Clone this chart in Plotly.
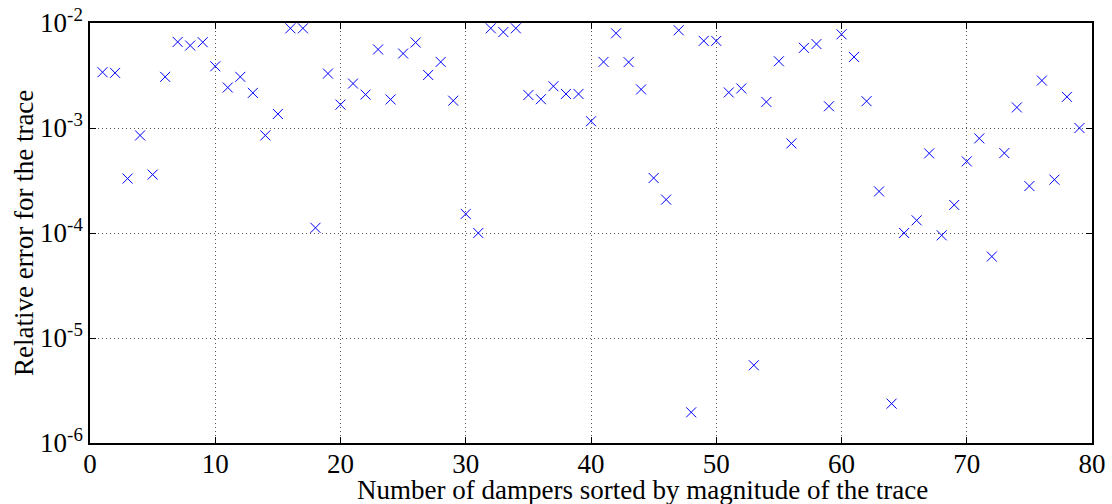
import plotly.graph_objects as go

damper_index = list(range(1, 80))
rel_error = [
    3.4e-3, 3.35e-3, 3.3e-4, 8.5e-4, 3.6e-4, 3.07e-3, 6.6e-3, 6.1e-3, 6.56e-3, 3.87e-3,
    2.43e-3, 3.07e-3, 2.16e-3, 8.5e-4, 1.36e-3, 8.9e-3, 8.9e-3, 1.12e-4, 3.3e-3, 1.67e-3,
    2.65e-3, 2.08e-3, 5.6e-3, 1.87e-3, 5.12e-3, 6.52e-3, 3.2e-3, 4.26e-3, 1.82e-3, 1.52e-4,
    1.0e-4, 8.9e-3, 8.2e-3, 8.9e-3, 2.06e-3, 1.88e-3, 2.5e-3, 2.11e-3, 2.11e-3, 1.16e-3,
    4.26e-3, 7.98e-3, 4.24e-3, 2.33e-3, 3.34e-4, 2.08e-4, 8.53e-3, 1.96e-6, 6.75e-3, 6.75e-3,
    2.18e-3, 2.38e-3, 5.5e-6, 1.77e-3, 4.32e-3, 7.13e-4, 5.8e-3, 6.3e-3, 1.61e-3, 7.8e-3,
    4.75e-3, 1.8e-3, 2.49e-4, 2.37e-6, 1.0e-4, 1.32e-4, 5.73e-4, 9.5e-5, 1.85e-4, 4.81e-4,
    7.96e-4, 5.97e-5, 5.77e-4, 1.57e-3, 2.8e-4, 2.83e-3, 3.22e-4, 1.98e-3, 1.0e-3,
]

x_ticks = [0, 10, 20, 30, 40, 50, 60, 70, 80]
y_ticks = [1e-6, 1e-5, 1e-4, 1e-3, 1e-2]
y_tick_text = ["10<sup>-6</sup>", "10<sup>-5</sup>", "10<sup>-4</sup>", "10<sup>-3</sup>", "10<sup>-2</sup>"]
x_title = "Number of dampers sorted by magnitude of the trace"
y_title = "Relative error for the trace"

fig = go.Figure()
fig.add_trace(go.Scatter(
    x=damper_index, y=rel_error, mode="markers",
    marker=dict(symbol="x-thin-open", size=10, color="#0000ff",
                line=dict(color="#0000ff", width=1)),
    showlegend=False,
))

font_family = "Liberation Serif"
fig.update_layout(
    width=1112, height=504,
    margin=dict(l=90, r=20, t=23, b=61),
    paper_bgcolor="white", plot_bgcolor="white",
    font=dict(family=font_family, size=27, color="black"),
    annotations=[
        dict(text=x_title, xref="paper", yref="paper", x=0.551, y=0,
             xanchor="center", yanchor="middle", yshift=-47, showarrow=False,
             font=dict(family=font_family, size=27, color="black")),
        dict(text=y_title, xref="paper", yref="paper", x=0, y=0.5,
             xanchor="center", yanchor="middle", xshift=-66, textangle=-90,
             showarrow=False,
             font=dict(family=font_family, size=27, color="black")),
    ],
)
fig.update_xaxes(
    range=[0, 80], tickvals=x_ticks, ticks="inside", ticklen=6, tickcolor="black",
    showline=True, linecolor="black", linewidth=1.5, mirror="ticks",
    showgrid=True, gridcolor="#555555", griddash="1px,3px", gridwidth=1,
    zeroline=False, automargin=False, ticklabelstandoff=-4,
    tickfont=dict(family=font_family, size=27),
)
fig.update_yaxes(
    type="log", range=[-6, -2], tickvals=y_ticks, ticktext=y_tick_text,
    ticks="inside", ticklen=6, tickcolor="black",
    showline=True, linecolor="black", linewidth=1.5, mirror="ticks",
    showgrid=True, gridcolor="#555555", griddash="1px,3px", gridwidth=1,
    zeroline=False, automargin=False,
    tickfont=dict(family=font_family, size=27),
)

fig.write_html("out.html", config={"displayModeBar": False},
               post_script="document.body.style.margin='0';")
